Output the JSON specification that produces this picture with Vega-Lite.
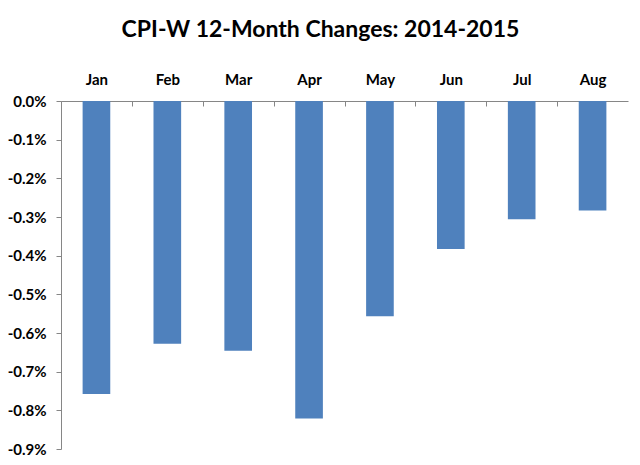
{
  "$schema": "https://vega.github.io/schema/vega-lite/v6.json",
  "width": 567,
  "height": 348,
  "autosize": {"type": "none"},
  "padding": {"left": 61, "top": 101, "right": 12, "bottom": 16},
  "background": "white",
  "title": {
    "text": "CPI-W 12-Month Changes: 2014-2015",
    "font": "Lato",
    "fontSize": 23,
    "fontWeight": "bold",
    "color": "#000000",
    "anchor": "middle",
    "dx": -24,
    "offset": 30
  },
  "data": {
    "values": [
      {"month": "Jan", "change": -0.758},
      {"month": "Feb", "change": -0.628},
      {"month": "Mar", "change": -0.646},
      {"month": "Apr", "change": -0.821},
      {"month": "May", "change": -0.557},
      {"month": "Jun", "change": -0.383},
      {"month": "Jul", "change": -0.306},
      {"month": "Aug", "change": -0.283}
    ]
  },
  "mark": {"type": "bar", "color": "#4F81BD"},
  "encoding": {
    "x": {
      "field": "month",
      "type": "nominal",
      "sort": null,
      "scale": {"paddingInner": 0.61, "paddingOuter": 0.305},
      "axis": {
        "orient": "bottom",
        "offset": -348,
        "title": null,
        "labelAngle": 0,
        "labelFont": "Lato",
        "labelFontSize": 15,
        "labelFontWeight": "bold",
        "labelColor": "#000000",
        "labelBaseline": "alphabetic",
        "domainColor": "#868686",
        "tickColor": "#868686",
        "bandPosition": 0,
        "tickOffset": -21.6,
        "labelOffset": 21.6,
        "tickSize": 5,
        "labelPadding": -22,
        "grid": false
      }
    },
    "y": {
      "field": "change",
      "type": "quantitative",
      "scale": {"domain": [-0.9, 0], "nice": false, "zero": true},
      "axis": {
        "title": null,
        "values": [0, -0.1, -0.2, -0.3, -0.4, -0.5, -0.6, -0.7, -0.8, -0.9],
        "labelExpr": "replace(format(datum.value, '.1f'), '\u2212', '-') + '%'",
        "labelFont": "Lato",
        "labelFontSize": 15,
        "labelFontWeight": "bold",
        "labelColor": "#000000",
        "domainColor": "#868686",
        "tickColor": "#868686",
        "tickSize": 5,
        "labelPadding": 10,
        "grid": false
      }
    }
  },
  "config": {"view": {"stroke": null}}
}
